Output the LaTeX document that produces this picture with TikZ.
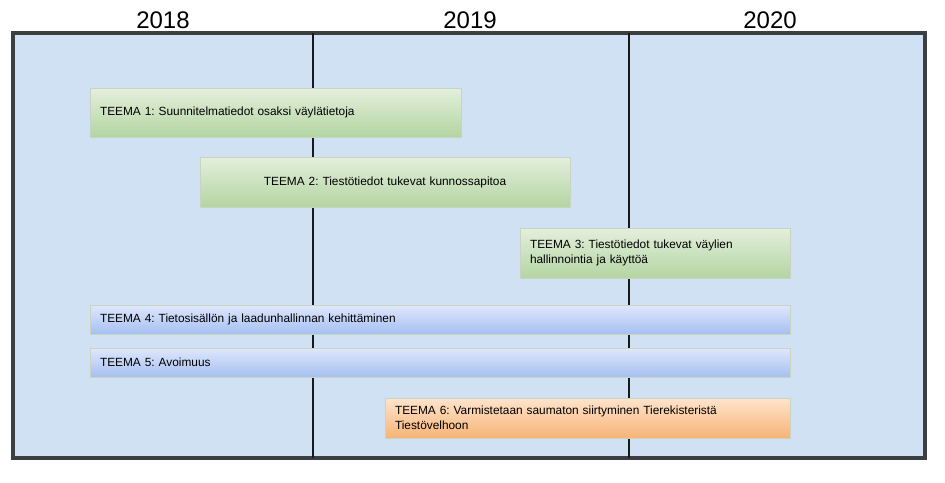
\documentclass[tikz,border=0pt]{standalone}
\usepackage{fontspec}
\setmainfont{Liberation Sans}
\frenchspacing

\definecolor{bgblue}{HTML}{CFE1F2}
\definecolor{framegray}{HTML}{3C3F42}
\definecolor{greentop}{HTML}{E4EFDC}
\definecolor{greenbot}{HTML}{B3D5A2}
\definecolor{bluetop}{HTML}{DFE7FC}
\definecolor{bluebot}{HTML}{A5C0F0}
\definecolor{orangetop}{HTML}{FDE4CC}
\definecolor{orangebot}{HTML}{F8B477}
\definecolor{boxedge}{HTML}{C9D3C4}

\tikzset{
  teema/.style={draw=boxedge, line width=0.4pt, inner xsep=7.5pt, inner ysep=0pt,
    font=\fontsize{8.9}{11.25}\selectfont, align=left},
  greenbar/.style={teema, top color=greentop, bottom color=greenbot},
  bluebar/.style={teema, top color=bluetop, bottom color=bluebot},
  orangebar/.style={teema, top color=orangetop, bottom color=orangebot},
  yearlabel/.style={font=\fontsize{18}{20}\selectfont}
}

\begin{document}
\begin{tikzpicture}[x=0.75pt,y=-0.75pt]

\def\width{945}
\def\height{482}

\path [use as bounding box] (0,0) rectangle (\width,\height);

% FRAME
\draw [line width=2.4pt, draw=framegray, fill=bgblue] (13,33) rectangle (925,458);

% YEAR LINES
\draw [line width=1.4pt, draw=black!90] (313,33) -- (313,458);
\draw [line width=1.4pt, draw=black!90] (629,33) -- (629,458);

% YEARS
\node [yearlabel] (y2018) at (163,20) {2018};
\node [yearlabel] (y2019) at (470,20) {2019};
\node [yearlabel] (y2020) at (770,20) {2020};

% THEMES
\node [greenbar, minimum width=278.25pt, minimum height=36.75pt, text width=263.25pt]
  (t1) at (275.5,112.5) {TEEMA 1: Suunnitelmatiedot osaksi väylätietoja};
\node [greenbar, minimum width=277.5pt, minimum height=37.5pt, text width=262.5pt, align=center]
  (t2) at (385,182) {TEEMA 2: Tiestötiedot tukevat kunnossapitoa};
\node [greenbar, minimum width=202.5pt, minimum height=37.5pt, text width=187.5pt]
  (t3) at (655,253) {TEEMA 3: Tiestötiedot tukevat väylien\\hallinnointia ja käyttöä};
\node [bluebar, minimum width=525pt, minimum height=21.75pt, text width=510pt]
  (t4) at (440,319.5) {TEEMA 4: Tietosisällön ja laadunhallinnan kehittäminen};
\node [bluebar, minimum width=525pt, minimum height=21.75pt, text width=510pt]
  (t5) at (440,362.5) {TEEMA 5: Avoimuus};
\node [orangebar, minimum width=303.75pt, minimum height=30pt, text width=288.75pt]
  (t6) at (587.5,418) {TEEMA 6: Varmistetaan saumaton siirtyminen Tierekisteristä\\Tiestövelhoon};

\end{tikzpicture}
\end{document}
